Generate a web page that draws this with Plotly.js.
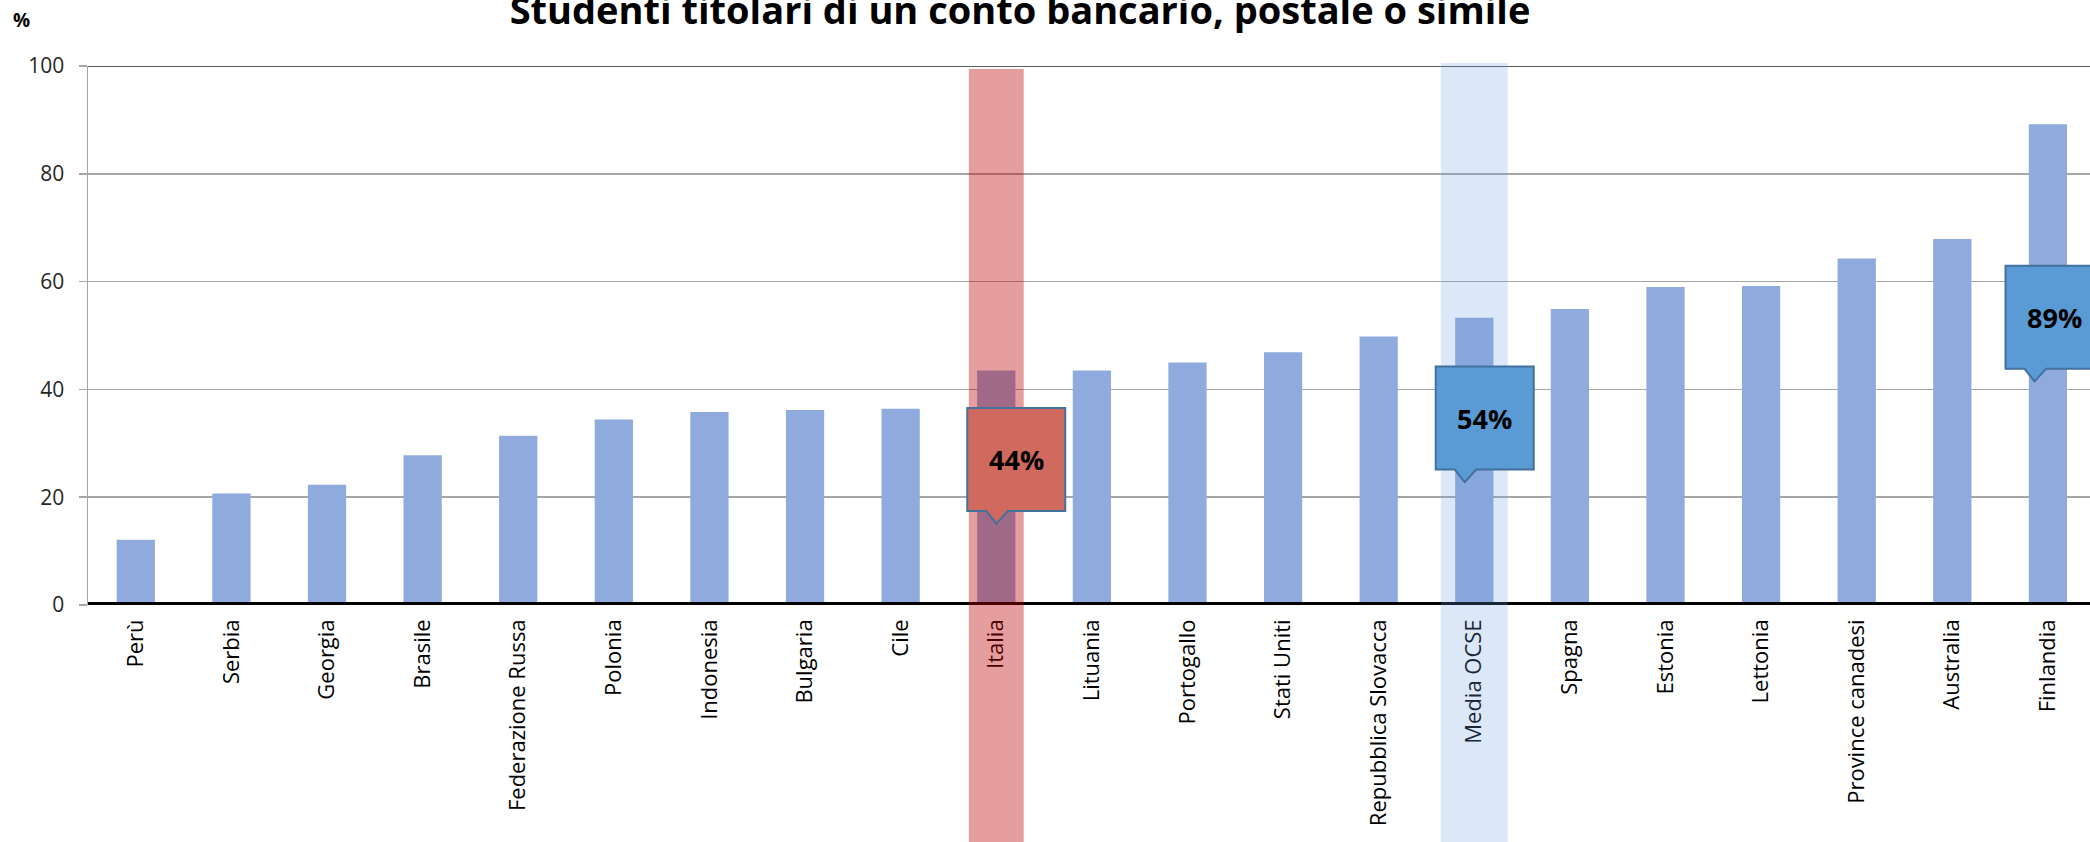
<!DOCTYPE html>
<html>
<head>
<meta charset="utf-8">
<script src="https://cdn.plot.ly/plotly-3.0.1.min.js"></script>
<style>
  html, body { margin: 0; padding: 0; background: #ffffff; overflow: hidden; }
  #chart { width: 2090px; height: 842px; }
</style>
</head>
<body>
<div id="chart"></div>
<script>
// ---- Data ----
const categories = ['Perù', 'Serbia', 'Georgia', 'Brasile', 'Federazione Russa', 'Polonia',
  'Indonesia', 'Bulgaria', 'Cile', 'Italia', 'Lituania', 'Portogallo', 'Stati Uniti',
  'Repubblica Slovacca', 'Media OCSE', 'Spagna', 'Estonia', 'Lettonia',
  'Province canadesi', 'Australia', 'Finlandia'];
const values = [12.1, 20.7, 22.3, 27.8, 31.4, 34.4, 35.8, 36.2, 36.4, 43.5, 43.5, 45.0,
  46.9, 49.8, 53.3, 54.9, 59.0, 59.2, 64.3, 67.9, 89.2];
const yTickValues = [0, 20, 40, 60, 80, 100];
const calloutCategories = ['Italia', 'Media OCSE', 'Finlandia'];
const calloutLabels = ['44%', '54%', '89%'];
const titleText = 'Studenti titolari di un conto bancario, postale o simile';
const unitLabel = '%';

// ---- Layout helpers (positions/styles) ----
const FONT = 'Open Sans, Noto Sans, sans-serif';
const W = 2090, H = 842;
const M = { l: 88, r: 0, t: 66, b: 237 };
const plotH = H - M.t - M.b;

// where callout pointer tips sit (category-offset, value) — annotation placement
const calloutTipDx = [0, -0.1, -0.14];
const calloutTipY = [15.1, 22.8, 41.5];
const calloutFill = ['#d06a5e', '#5b9bd5', '#5b9bd5'];

const bandSpec = [
  { cat: 'Italia', half: 0.287, topPx: 69, color: 'rgba(189,3,3,0.39)' },
  { cat: 'Media OCSE', half: 0.35, topPx: 63, color: 'rgba(110,156,224,0.24)' }
];

const shapes = [];
// top border line at 100
shapes.push({ type: 'line', xref: 'paper', x0: 0, x1: 1, yref: 'y', y0: 100, y1: 100,
  line: { color: '#5a5a5a', width: 2 }, layer: 'above' });
// thick zero axis line
shapes.push({ type: 'line', xref: 'paper', x0: 0, x1: 1, yref: 'y', y0: 0, y1: 0,
  line: { color: '#000000', width: 6 }, layer: 'above' });
// highlight bands
bandSpec.forEach(b => {
  const idx = categories.indexOf(b.cat);
  shapes.push({ type: 'rect', xref: 'x', yref: 'paper',
    x0: idx - b.half, x1: idx + b.half,
    y0: -(H - (M.t + plotH)) / plotH, y1: (M.t + plotH - b.topPx) / plotH,
    fillcolor: b.color, line: { width: 0 }, layer: 'above' });
});
// callout boxes with pointer
const calloutPath = 'M 0 0 L -10 12.5 L -29 12.5 L -29 115.5 L 69 115.5 L 69 12.5 L 11.5 12.5 Z';
const annotations = [];
calloutCategories.forEach((c, i) => {
  const idx = categories.indexOf(c) + calloutTipDx[i];
  shapes.push({ type: 'path', xref: 'x', yref: 'y', xsizemode: 'pixel', ysizemode: 'pixel',
    xanchor: idx, yanchor: calloutTipY[i], path: calloutPath,
    fillcolor: calloutFill[i], line: { color: '#41719c', width: 2 }, layer: 'above' });
  annotations.push({ xref: 'x', yref: 'y', x: idx, y: calloutTipY[i], xshift: 20, yshift: 64,
    text: '<b>' + calloutLabels[i] + '</b>', showarrow: false,
    xanchor: 'center', yanchor: 'middle',
    font: { family: FONT, size: 27, color: '#000000' } });
});
annotations.push({ xref: 'paper', yref: 'paper', x: (21.5 - M.l) / (W - M.l), y: (M.t + plotH - 20.5) / plotH,
  text: '<b>' + unitLabel + '</b>', showarrow: false, xanchor: 'center', yanchor: 'middle',
  font: { family: FONT, size: 19, color: '#000000' } });

const trace = {
  type: 'bar', x: categories, y: values, width: 0.4,
  marker: { color: '#8faadc', line: { width: 0 } },
  hoverinfo: 'x+y'
};

const layout = {
  width: W, height: H,
  margin: M,
  paper_bgcolor: '#ffffff', plot_bgcolor: '#ffffff',
  showlegend: false,
  title: { text: '<b>' + titleText + '</b>', font: { family: FONT, size: 38, color: '#000000' },
    xref: 'container', yref: 'container', x: 1020 / W, xanchor: 'center', y: 1 - 10.5 / H, yanchor: 'middle' },
  xaxis: { type: 'category', range: [-0.5, 20.44], showgrid: false, showline: false, zeroline: false,
    ticks: '', tickangle: -90, ticklabelstandoff: 9,
    tickfont: { family: FONT, size: 22, color: '#000000' }, fixedrange: true },
  yaxis: { range: [0, 100], tickvals: yTickValues, ticktext: yTickValues.map(String),
    showgrid: true, gridcolor: '#a6a6a6', gridwidth: 1.5, zeroline: false,
    showline: true, linecolor: '#a6a6a6', linewidth: 1.5,
    ticks: 'outside', ticklen: 8, tickcolor: '#a6a6a6', tickwidth: 1.5, ticklabelstandoff: 10,
    tickfont: { family: FONT, size: 21, color: '#262626' }, fixedrange: true },
  shapes: shapes,
  annotations: annotations,
  bargap: 0.6
};

Plotly.newPlot('chart', [trace], layout, { displayModeBar: false, staticPlot: true });
</script>
</body>
</html>
